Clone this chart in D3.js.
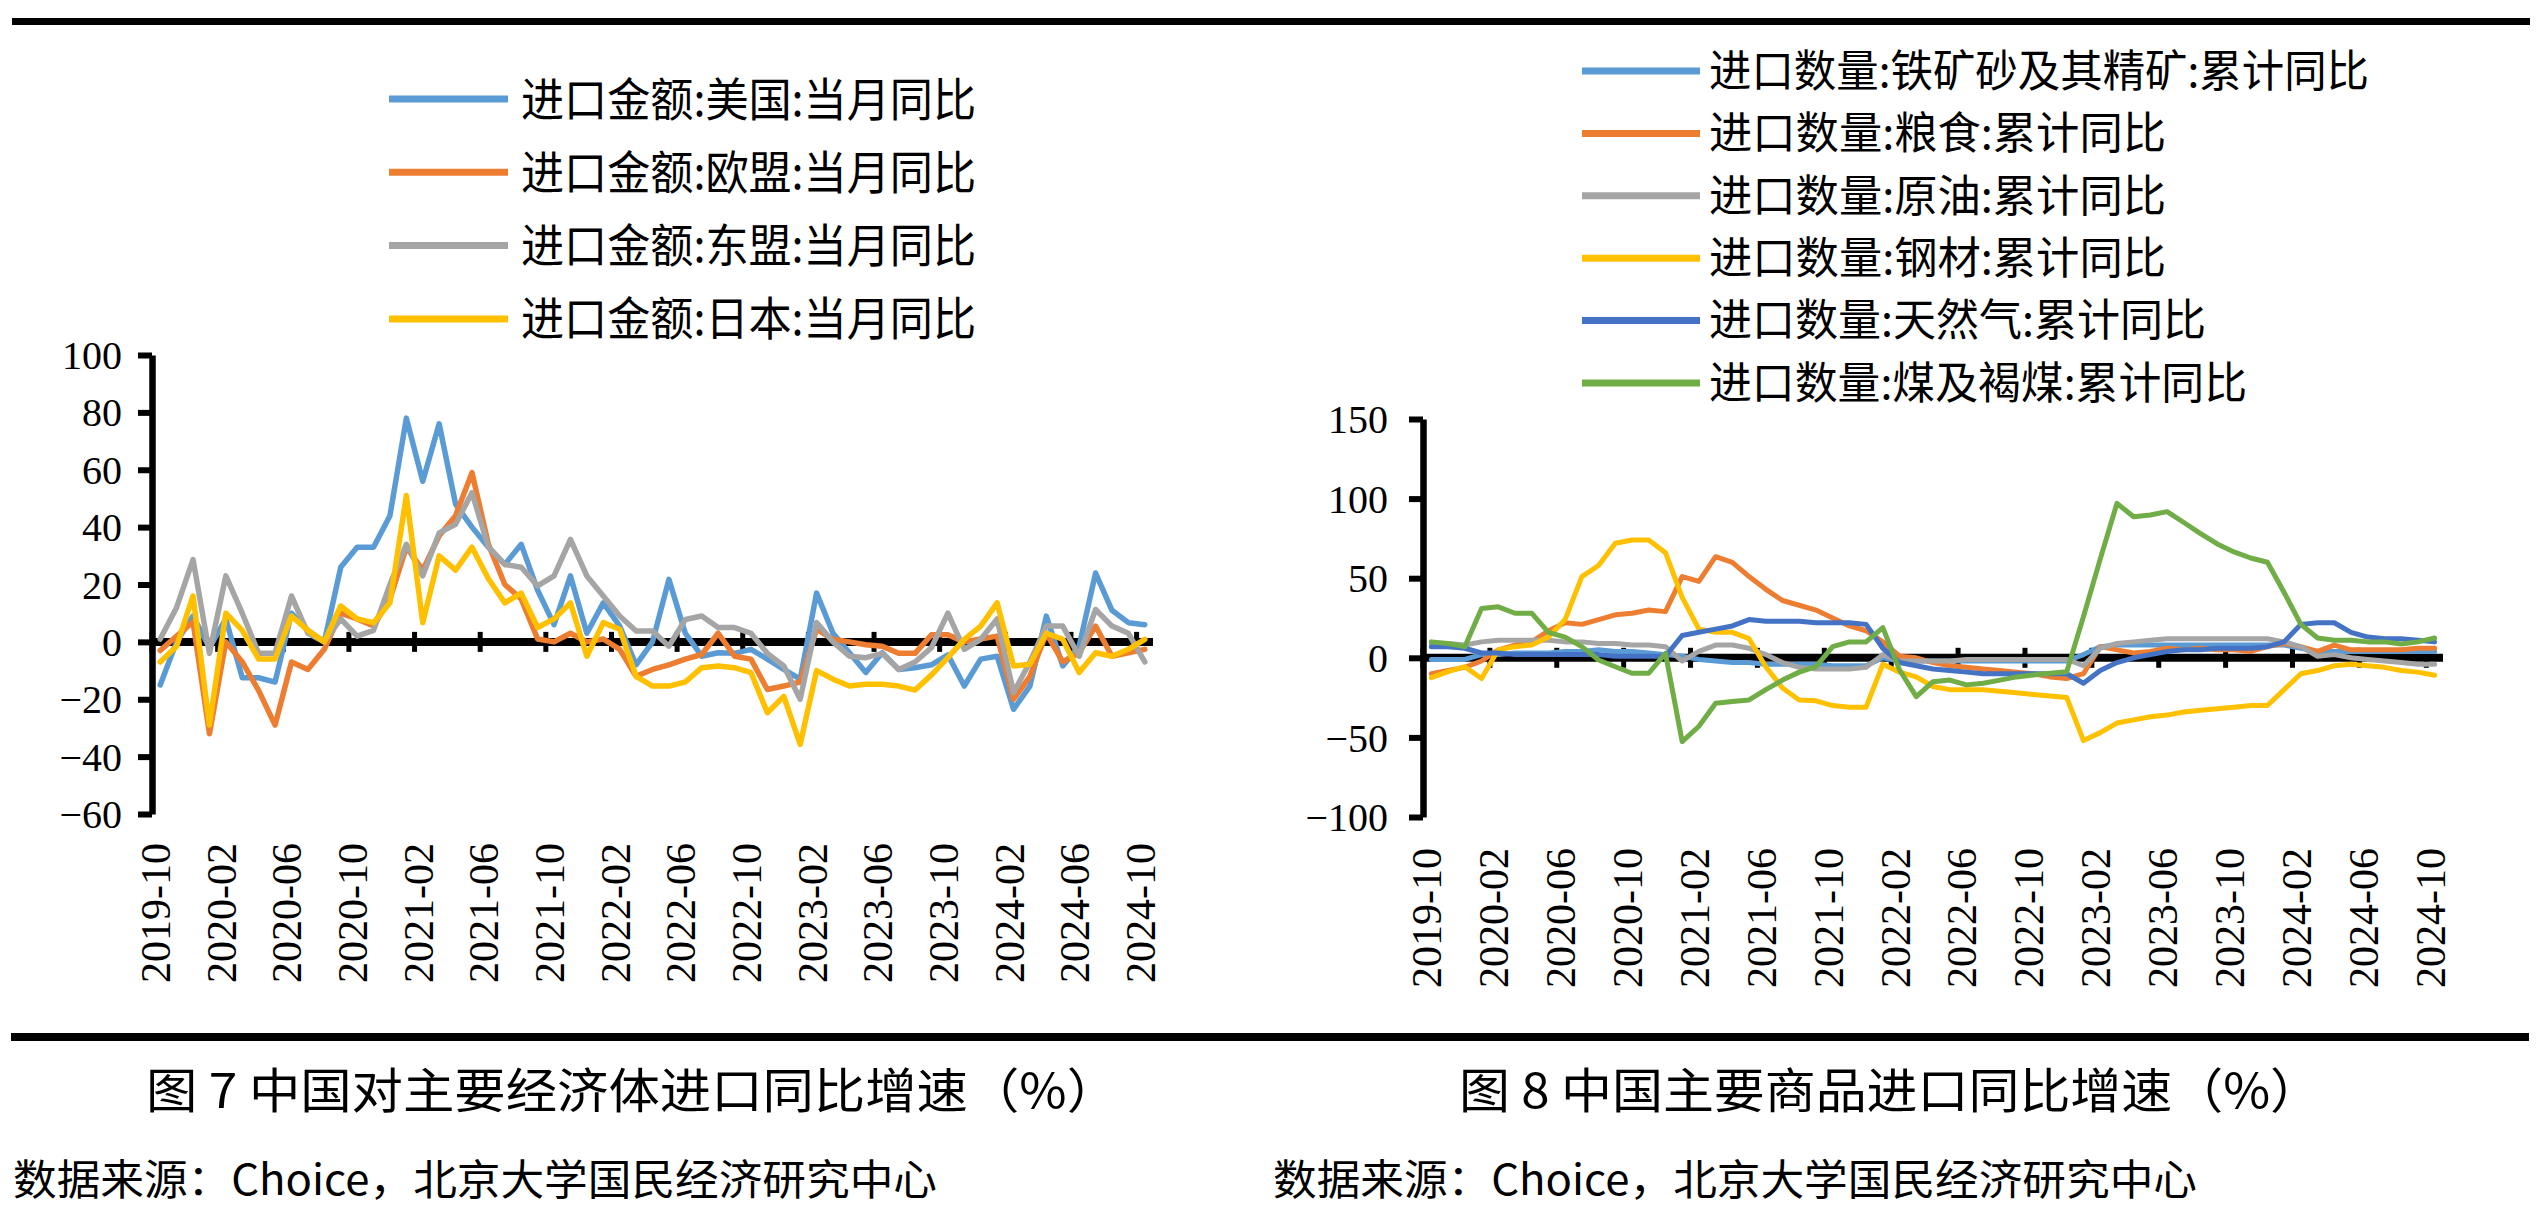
<!DOCTYPE html>
<html>
<head>
<meta charset="utf-8">
<script src="https://cdn.jsdelivr.net/npm/d3@7"></script>
<style>
  html, body { margin: 0; padding: 0; background: #fff; }
  svg { display: block; }
</style>
</head>
<body>
<script>
// categories: monthly, 2019-10 .. 2024-10
var months = d3.utcMonth.range(new Date(Date.UTC(2019, 9, 1)), new Date(Date.UTC(2024, 10, 1)))
    .map(d3.utcFormat("%Y-%m"));

var tickLabels = ["2019-10", "2020-02", "2020-06", "2020-10", "2021-02", "2021-06", "2021-10", "2022-02",
    "2022-06", "2022-10", "2023-02", "2023-06", "2023-10", "2024-02", "2024-06", "2024-10"];

// 图7 进口金额 当月同比
var leftNames = ["进口金额:美国:当月同比", "进口金额:欧盟:当月同比", "进口金额:东盟:当月同比", "进口金额:日本:当月同比"];
var usa = [-15, 0, 9, -2, 8, -12.5, -12.5, -14, 10, 4, 0, 26, 33, 33, 44, 78, 56, 76, 48, 40,
    33, 27, 34, 18, 6, 23, 3, 13.6, 5.5, -8, 0, 21.8, 3, -5, -3.8, -4, -2.6, -6, -9.6, -13,
    17, 3, -3.8, -10.7, -3.8, -9.6, -9, -8, -4.5, -15.4, -6, -5, -23.5, -15.4, 9, -8.4, -1.5, 24, 11, 6.7, 6];
var eu = [-3, 2, 7, -32, 0, -7, -17, -29, -7, -9.6, -2.6, 10, 8, 5.5, 15, 33, 25, 37, 44, 59,
    34, 20, 15, 1, 0, 3, 0, 1, -2.6, -12, -9.6, -8, -6, -4.4, 3, -5, -6, -16.6, -15.4, -14,
    4.4, 0.9, 0, -1, -1.5, -4, -4, 2.5, 2.5, 0, 1, 2, -20, -12, 3, -7, -3.8, 5.5, -5, -3.8, -2.6];
var asean = [1, 12, 28.7, -4, 23, 10, -4, -4, 16, 3, 0, 8, 2, 4, 20, 34, 23, 38, 41, 52,
    33, 27, 26, 19.5, 23, 35.7, 23, 16, 9, 3.8, 3.8, -1.5, 7.8, 9, 5, 5, 3, -4, -8.4, -20,
    6.7, 0, -5, -5.5, -4, -9.6, -7, -2, 10, -2.6, 0.9, 8, -17.7, -7, 5.5, 5.5, -5, 11.3, 5.5, 3, -7];
var japan = [-7, -1.5, 16, -29, 10, 4, -6, -6, 9, 4, 0, 12.5, 8, 6.7, 13.6, 51, 6.7, 30, 25, 33,
    22, 13.6, 17, 5, 8, 13.6, -5, 6.7, 4.4, -12, -15.4, -15.4, -14, -9, -8.4, -9, -10.7, -24.7, -19, -35.7,
    -10, -13, -15.4, -14.8, -14.8, -15.4, -16.8, -11.5, -5.5, 0.9, 5.5, 13.6, -8.4, -7.8, 3, 0.9, -10.7, -3.8, -5, -2.6, 0.9];
var leftYTicks = [-60, -40, -20, 0, 20, 40, 60, 80, 100];

// 图8 进口数量 累计同比
var rightNames = ["进口数量:铁矿砂及其精矿:累计同比", "进口数量:粮食:累计同比", "进口数量:原油:累计同比",
    "进口数量:钢材:累计同比", "进口数量:天然气:累计同比", "进口数量:煤及褐煤:累计同比"];
var ironOre = [-1, -1, -1, 2, 2, 3, 3, 3, 4, 4, 5, 4, 4, 3, 2, 1, -1, -2, -3, -3,
    -4, -4, -4, -4, -5, -5, -5, 0, -2, -2, -2, -2, -2, -2, -2, -2, -2, -2, -2, 2,
    7, 8, 8, 8, 8, 8, 8, 8, 8, 8, 8, 8, 6, 4, 4, 4, 4, 4, 4, 4, 4];
var grain = [-10, -8, -6, -2, 5, 8, 10, 17, 22, 21, 24, 27, 28, 30, 29, 51, 48, 63.5, 60, 51,
    43, 36, 33, 30, 25, 20, 17, 10, 1, 0, -3, -5, -6, -7, -8, -9, -10, -12, -13, -10,
    7, 5, 3, 4, 6, 5, 6, 5, 5, 4, 7, 9, 7, 4, 8, 5, 5, 5, 5, 6, 6];
var crude = [9, 9, 8, 10, 11, 11, 11, 11, 10, 10, 9, 9, 8, 8, 7, -2, 4, 8, 8, 6,
    2, -3, -6, -7, -7, -7, -6, 2, -2, -2, -2, -2, -1, -1, -1, -1, -1, -1, -1, -5,
    6, 9, 10, 11, 12, 12, 12, 12, 12, 12, 12, 10, 7, 1, 2, 0, -1, -2, -3, -4, -4];
var steel = [-12.5, -8.7, -5.6, -13, 5, 7, 8, 13, 24, 51, 58, 72, 74, 74, 66, 38, 18, 16, 16, 12,
    -5.6, -19, -26.5, -27, -30, -31, -31, -4, -9, -12, -18, -20, -20, -20, -21, -22, -23, -24, -25, -52,
    -47, -41, -39, -37, -36, -34, -33, -32, -31, -30, -30, -20, -10, -8, -5, -4, -5, -6, -8, -9, -11];
var gas = [7, 7, 6, 3, 3, 2, 2, 2, 2, 2, 2, 1, 1, 1, 1, 14, 16, 18, 20, 24,
    23, 23, 23, 22, 22, 22, 21, 6, -3, -5, -7, -8, -9, -10, -10, -10, -10, -10, -10, -16,
    -8, -3, 0, 2, 4, 5, 5, 6, 6, 6, 7, 10, 21, 22, 22, 16, 13, 12, 12, 11, 10];
var coal = [10, 9, 7, 31, 32, 28, 28, 16, 13, 7, -1.4, -5.6, -9.7, -9.7, 2.8, -52.6, -43, -28.6, -27.5, -26.5,
    -20, -14, -9, -5.5, 7, 10, 10, 19, -7.6, -24.4, -15, -14, -17, -16, -14, -12, -10.8, -9.7, -8.7, 26,
    62, 97, 88.6, 89.7, 91.8, 85, 78, 71.5, 66.5, 62.7, 60, 41, 21, 12.4, 11, 11, 10, 10, 8.7, 10, 12.4];
var rightYTicks = [-100, -50, 0, 50, 100, 150];

var captions = ["图 7 中国对主要经济体进口同比增速（%）", "图 8 中国主要商品进口同比增速（%）"];
var sourceText = "数据来源：Choice，北京大学国民经济研究中心";

var officeColors = ["#5B9BD5", "#ED7D31", "#A5A5A5", "#FFC000", "#4472C4", "#70AD47"];
var numFont = "'Liberation Serif', 'Times New Roman', serif";
var cjkFont = "'Noto Sans CJK SC', 'Noto Sans', sans-serif";

var svg = d3.select("body").append("svg")
    .attr("width", 2542)
    .attr("height", 1211);

function drawPanel(p) {
    var x = d3.scaleBand().domain(months).range(p.xRange);
    var y = d3.scaleLinear().domain(p.yDomain).range(p.yRange);
    var cx = function (m) { return x(m) + x.bandwidth() / 2; };
    var g = svg.append("g");

    // y axis
    var ya = g.append("g")
        .attr("transform", "translate(" + p.xRange[0] + ",0)")
        .call(d3.axisLeft(y).tickValues(p.yTicks).tickSize(14).tickSizeOuter(0).tickPadding(p.labelPad));
    ya.select(".domain").attr("stroke", "#000").attr("stroke-width", 6.5);
    ya.selectAll(".tick line").attr("stroke", "#000").attr("stroke-width", 6);
    ya.selectAll(".tick text")
        .attr("font-family", numFont)
        .attr("font-size", 40)
        .attr("fill", "#000")
        .attr("dy", "0.34em");

    // x axis on the zero line
    g.append("line")
        .attr("x1", p.xRange[0]).attr("x2", p.xRange[1])
        .attr("y1", y(0)).attr("y2", y(0))
        .attr("stroke", "#000").attr("stroke-width", 8);
    g.append("g").selectAll("line")
        .data(tickLabels)
        .join("line")
        .attr("x1", function (d) { return x(d); })
        .attr("x2", function (d) { return x(d); })
        .attr("y1", y(0) - 10).attr("y2", y(0) + 10)
        .attr("stroke", "#000").attr("stroke-width", 5);

    // category labels at the bottom, rotated
    g.append("g").selectAll("text")
        .data(tickLabels)
        .join("text")
        .attr("transform", function (d) {
            return "translate(" + (cx(d) - 4 + 14) + "," + p.labelTop + ") rotate(-90)";
        })
        .attr("text-anchor", "end")
        .attr("font-family", numFont)
        .attr("font-size", 42)
        .attr("fill", "#000")
        .text(function (d) { return d; });

    // series
    var line = d3.line()
        .x(function (d, i) { return cx(months[i]); })
        .y(function (d) { return y(d); });
    g.append("g").selectAll("path")
        .data(p.series)
        .join("path")
        .attr("d", function (d) { return line(d); })
        .attr("fill", "none")
        .attr("stroke", function (d, i) { return officeColors[i]; })
        .attr("stroke-width", p.lineWidth)
        .attr("stroke-linejoin", "round")
        .attr("stroke-linecap", "round");

    // legend
    var lg = g.append("g").selectAll("g")
        .data(p.names)
        .join("g")
        .attr("transform", function (d, i) { return "translate(0," + (p.legendY + i * p.legendGap) + ")"; });
    lg.append("line")
        .attr("x1", p.legendLine[0]).attr("x2", p.legendLine[1])
        .attr("stroke", function (d, i) { return officeColors[i]; })
        .attr("stroke-width", 7);
    lg.append("text")
        .attr("x", p.legendText)
        .attr("dy", "0.36em")
        .attr("font-family", cjkFont)
        .attr("font-size", p.legendFont)
        .attr("fill", "#000")
        .attr("textLength", function (d, i) { return p.legendLengths[i]; })
        .attr("lengthAdjust", "spacingAndGlyphs")
        .text(function (d) { return d; });

    // caption and source
    svg.append("text")
        .attr("x", p.captionX).attr("y", 1091).attr("dy", "0.36em")
        .attr("font-family", cjkFont).attr("font-size", 48).attr("fill", "#000")
        .attr("textLength", p.captionLength).attr("lengthAdjust", "spacingAndGlyphs")
        .text(p.caption);
    svg.append("text")
        .attr("x", p.sourceX).attr("y", 1180).attr("dy", "0.36em")
        .attr("font-family", cjkFont).attr("font-size", 42).attr("fill", "#000")
        .attr("textLength", 924).attr("lengthAdjust", "spacingAndGlyphs")
        .text(sourceText);
}

// frame rules
svg.append("rect").attr("x", 12).attr("y", 18).attr("width", 2518).attr("height", 7).attr("fill", "#000");
svg.append("rect").attr("x", 11).attr("y", 1033).attr("width", 2518).attr("height", 8).attr("fill", "#000");

drawPanel({
    xRange: [152, 1153], yDomain: [-60, 100], yRange: [814, 355], yTicks: leftYTicks,
    labelPad: 16, labelTop: 843, lineWidth: 5.5,
    series: [usa, eu, asean, japan], names: leftNames,
    legendLine: [389, 508], legendText: 521, legendY: 99, legendGap: 73.3,
    legendFont: 46, legendLengths: [455, 455, 455, 455],
    caption: captions[0], captionX: 146, captionLength: 972, sourceX: 13
});

drawPanel({
    xRange: [1423, 2443], yDomain: [-100, 150], yRange: [817, 419], yTicks: rightYTicks,
    labelPad: 21, labelTop: 848, lineWidth: 5,
    series: [ironOre, grain, crude, steel, gas, coal], names: rightNames,
    legendLine: [1582, 1700], legendText: 1709, legendY: 71, legendGap: 62.4,
    legendFont: 44, legendLengths: [660, 457, 457, 457, 497, 538],
    caption: captions[1], captionX: 1459, captionLength: 862, sourceX: 1273
});
</script>
</body>
</html>
